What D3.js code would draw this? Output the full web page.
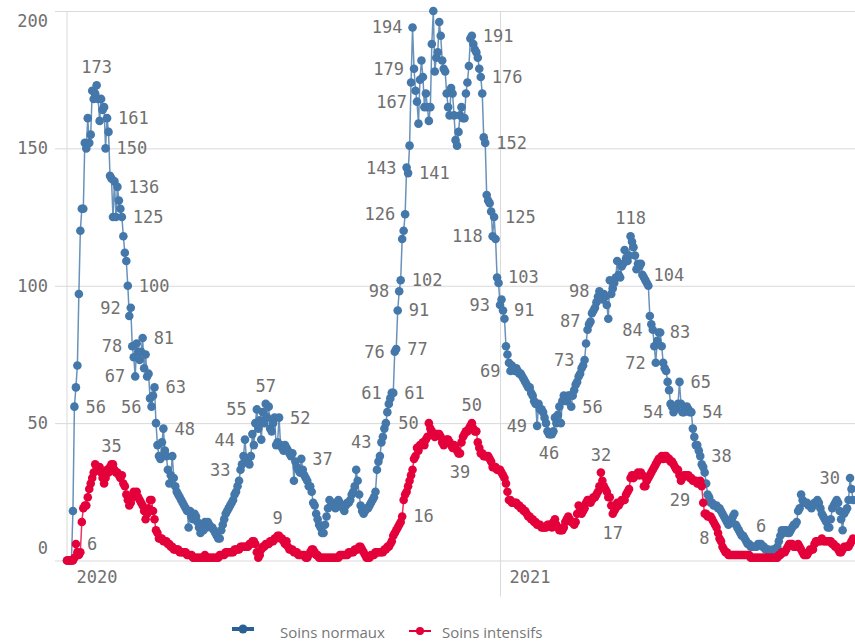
<!DOCTYPE html>
<html>
<head>
<meta charset="utf-8">
<script src="https://cdn.jsdelivr.net/npm/d3@7"></script>
<style>
  body { margin: 0; background: #fff; }
  svg { display: block; }
</style>
</head>
<body>
<svg id="chart" width="855" height="644"></svg>
<script>
// first day of the daily series, one value per day after that
const startDate = new Date(2020, 2, 15);

const seriesNames = ["Soins normaux", "Soins intensifs"];

const normaux = [
  0,0,0,0,18,56,63,71,97,120,
  128,128,152,150,161,152,155,171,168,170,
  173,168,160,168,164,165,150,161,156,140,
  139,125,138,125,136,131,128,125,118,112,
  109,100,89,92,78,74,67,79,76,73,
  76,81,70,75,67,68,59,56,60,63,
  50,42,38,37,43,48,40,38,33,28,
  31,38,30,27,25,24,23,22,21,20,
  19,18,12,18,16,15,17,16,14,12,
  10,13,11,14,12,14,13,12,12,11,
  10,9,8,8,11,13,15,17,18,19,
  20,21,22,24,25,27,29,33,35,38,
  44,37,36,35,38,46,42,50,55,48,
  51,44,54,50,57,52,56,48,47,50,
  52,42,43,52,42,41,40,42,41,40,
  39,38,39,29,36,34,33,32,37,33,
  31,30,29,27,27,25,21,20,17,15,
  13,12,10,10,13,16,19,22,20,21,
  20,19,20,22,21,20,19,18,20,21,
  21,22,24,25,27,33,29,24,20,18,
  17,18,19,19,20,21,22,23,25,33,
  36,38,43,45,48,50,54,57,59,61,
  61,76,77,91,98,102,117,120,126,143,
  141,151,174,194,179,171,167,159,175,182,
  176,165,170,165,160,165,188,200,178,183,
  185,196,191,182,179,178,170,165,162,172,
  170,162,153,151,156,162,165,161,161,170,
  174,180,190,191,188,186,185,183,179,176,
  170,154,152,133,131,130,127,118,125,117,
  103,101,93,95,91,88,78,75,72,69,
  71,70,69,70,69,68,68,67,66,65,
  64,63,63,61,60,58,57,49,57,55,
  55,54,52,50,47,46,46,46,47,52,
  50,53,56,50,58,60,59,58,60,60,
  56,60,62,64,65,67,68,70,71,73,
  79,84,86,87,90,91,92,94,96,98,
  97,95,97,96,93,88,102,97,99,101,
  103,109,104,103,107,108,113,110,109,111,
  118,116,114,111,106,108,107,108,104,103,
  102,101,100,89,86,84,78,72,80,83,
  83,78,72,70,69,65,62,57,56,54,
  55,56,57,65,57,54,54,55,56,55,
  54,54,48,45,42,42,40,38,35,34,
  32,28,24,23,21,21,20,20,20,19,
  19,18,17,16,15,14,13,14,15,16,
  17,13,12,11,10,9,9,8,7,6,
  6,5,5,5,5,5,6,6,6,5,
  5,4,4,4,3,3,4,4,4,5,
  7,9,11,10,11,11,10,10,11,12,
  13,13,14,18,19,24,22,21,21,21,
  20,20,19,20,21,21,22,21,19,17,
  16,15,14,12,12,15,19,20,21,22,
  21,18,15,11,17,18,19,22,30,26,22
];

const intensifs = [
  0,0,0,0,0,1,6,3,2,3,
  14,19,20,20,23,26,28,30,32,35,
  33,33,34,32,30,28,30,33,32,34,
  35,35,33,32,32,31,30,31,28,27,
  24,22,20,21,23,25,24,25,23,22,
  21,20,18,15,17,19,22,22,18,15,
  11,10,8,8,8,7,7,7,6,6,
  5,5,4,4,4,4,3,3,3,3,
  3,2,2,2,2,1,1,1,1,1,
  1,1,1,2,1,1,1,1,1,1,
  1,1,1,2,2,2,2,3,3,3,
  3,3,3,4,4,4,4,5,5,5,
  5,5,5,6,6,7,7,6,3,1,
  2,4,5,5,6,6,6,7,7,7,
  8,8,9,9,8,8,7,6,7,5,
  4,4,4,3,3,3,2,2,2,2,
  2,1,1,2,3,4,4,3,2,2,
  1,1,1,1,1,1,1,1,1,1,
  1,1,1,1,2,2,2,2,2,2,
  3,3,3,3,4,4,4,5,5,4,
  3,2,1,1,1,2,2,2,3,3,
  3,3,3,3,4,4,5,5,6,7,
  9,10,11,12,13,14,16,22,24,25,
  27,29,31,33,37,38,41,40,42,42,
  43,42,44,45,50,48,47,46,45,46,
  46,46,45,43,42,43,44,44,43,42,
  41,42,41,40,39,39,43,45,46,47,
  47,48,49,50,48,47,47,43,41,39,
  39,38,38,38,38,37,36,34,34,34,
  33,33,33,32,31,30,28,25,22,22,
  21,21,21,21,20,20,19,19,18,18,
  17,16,16,15,15,14,14,13,13,13,
  12,12,12,12,13,13,13,12,14,15,
  13,12,11,11,11,12,14,15,16,15,
  14,14,13,14,17,20,18,17,18,19,
  21,22,22,21,22,23,23,24,25,27,
  32,29,27,26,25,23,23,20,17,18,
  19,21,20,21,22,22,22,24,25,26,
  30,31,30,31,31,32,31,32,31,27,
  27,29,30,31,32,33,34,35,36,37,
  37,38,37,38,38,37,37,36,36,35,
  34,33,33,31,29,30,31,31,31,31,
  30,30,29,29,29,28,28,29,27,21,
  17,17,16,16,16,15,14,13,12,10,
  8,7,5,4,3,3,2,2,2,2,
  2,2,2,2,2,2,2,2,2,2,
  2,1,1,1,1,1,1,1,1,1,
  1,1,1,1,1,1,1,1,1,1,
  2,2,3,3,3,4,5,6,6,6,
  5,5,5,6,5,4,3,2,2,2,
  3,4,4,4,6,7,7,7,7,8,
  7,7,7,7,7,7,6,6,5,5,
  4,3,3,4,5,5,5,5,6,7,8
];

const yTicks = [0, 50, 100, 150, 200];
const xTicks = [new Date(2020, 2, 15), new Date(2021, 0, 1)];

// value labels shown on the chart: [day index, side]
const normauxLabels = [
  [5,"r"],[20,"t"],[27,"r"],[26,"r"],[34,"r"],[37,"r"],[41,"r"],[43,"l"],
  [44,"l"],[46,"l"],[51,"r"],[57,"l"],[59,"r"],[65,"r"],[117,"l"],[120,"l"],
  [128,"l"],[134,"t"],[143,"r"],[158,"r"],[212,"l"],[219,"l"],[220,"r"],
  [221,"l"],[222,"r"],[223,"r"],[224,"l"],[225,"r"],[228,"l"],[229,"l"],
  [230,"r"],[233,"l"],[234,"l"],[236,"l"],[273,"r"],[279,"r"],[282,"r"],
  [287,"l"],[288,"r"],[290,"r"],[292,"l"],[294,"r"],[299,"l"],[317,"l"],
  [325,"b"],[340,"r"],[349,"l"],[353,"l"],[359,"l"],[380,"t"],[388,"r"],
  [395,"l"],[397,"l"],[399,"r"],[409,"l"],[413,"r"],[421,"r"],[427,"r"],
  [468,"t"],[528,"l"]
];
const intensifsLabels = [
  [6,"r"],[30,"t"],[142,"t"],[226,"r"],[244,"l"],[265,"b"],[273,"t"],
  [360,"t"],[368,"b"],[427,"lb"],[440,"l"]
];

const colors = ["#4477aa", "#e4003a"];

const svg = d3.select("#chart");

const x = d3.scaleTime()
  .domain([startDate, d3.timeDay.offset(startDate, normaux.length - 1)])
  .range([67, 853]);
const y = d3.scaleLinear().domain([0, 200]).range([560.5, 11]);

const labelFont = "17px 'DejaVu Sans Mono', monospace";
const textColor = "#707070";

// y axis, its ticks stretched into gridlines
const gy = svg.append("g")
  .attr("transform", "translate(67,0)")
  .call(d3.axisLeft(y).tickValues(yTicks).tickSize(12).tickPadding(7));
gy.select(".domain").remove();
gy.selectAll(".tick line")
  .attr("x1", -12)
  .attr("x2", 788)
  .attr("stroke", "#d9d9d9");
gy.selectAll(".tick text")
  .attr("fill", textColor)
  .style("font", labelFont)
  // first and last labels are pushed inside the plot
  .attr("y", d => d === 0 ? -12 : d === 200 ? 10 : 0);

svg.append("line")
  .attr("x1", 67).attr("x2", 67)
  .attr("y1", y(200)).attr("y2", y(0))
  .attr("stroke", "#d9d9d9");

// x axis with year labels
const gx = svg.append("g")
  .attr("transform", "translate(0," + y(0) + ")")
  .call(d3.axisBottom(x).tickValues(xTicks).tickFormat(d3.timeFormat("%Y")).tickSize(36));
gx.select(".domain").remove();
gx.selectAll(".tick line")
  .attr("y1", y(200) - y(0))
  .attr("stroke", (d, i) => i === 0 ? "none" : "#d9d9d9");
gx.selectAll(".tick text")
  .attr("fill", textColor)
  .style("font", labelFont)
  .attr("text-anchor", "start")
  .attr("x", 9)
  .attr("y", 22.5)
  .attr("dy", 0);

const dayX = i => x(d3.timeDay.offset(startDate, i));

const line = d3.line()
  .x((d, i) => dayX(i))
  .y(d => y(d));

const series = [
  { name: seriesNames[0], values: normaux, labels: normauxLabels, color: colors[0] },
  { name: seriesNames[1], values: intensifs, labels: intensifsLabels, color: colors[1] }
];

series.forEach(s => {
  svg.append("path")
    .datum(s.values)
    .attr("d", line)
    .attr("fill", "none")
    .attr("stroke", s.color)
    .attr("stroke-opacity", 0.8)
    .attr("stroke-width", 1.5);

  svg.append("g")
    .selectAll("circle")
    .data(s.values)
    .join("circle")
    .attr("cx", (d, i) => dayX(i))
    .attr("cy", d => y(d))
    .attr("r", 4.3)
    .attr("fill", s.color);
});

// value labels on top of everything
series.forEach(s => {
  svg.append("g")
    .selectAll("text")
    .data(s.labels)
    .join("text")
    .text(d => s.values[d[0]])
    .attr("x", d => {
      const px = dayX(d[0]);
      if (d[1] === "r") return px + 11;
      if (d[1] === "l" || d[1] === "lb") return px - 10;
      return px;
    })
    .attr("y", d => {
      const py = y(s.values[d[0]]);
      if (d[1] === "t") return py - 18;
      if (d[1] === "b") return py + 19;
      if (d[1] === "lb") return py + 19;
      return py;
    })
    .attr("dy", "0.35em")
    .attr("text-anchor", d => d[1] === "r" ? "start" : (d[1] === "t" || d[1] === "b") ? "middle" : "end")
    .attr("fill", textColor)
    .style("font", labelFont);
});

// legend
const legendItems = [
  { name: seriesNames[0], color: "#2a6195", x: 232, y: 629, w: 4, r: 4.5, tx: 280 },
  { name: seriesNames[1], color: colors[1], x: 409, y: 631, w: 2, r: 4, tx: 442 }
];
const lg = svg.append("g").selectAll("g").data(legendItems).join("g");
lg.append("line")
  .attr("x1", d => d.x).attr("x2", d => d.x + 22)
  .attr("y1", d => d.y).attr("y2", d => d.y)
  .attr("stroke", d => d.color)
  .attr("stroke-width", d => d.w);
lg.append("circle")
  .attr("cx", d => d.x + 11).attr("cy", d => d.y)
  .attr("r", d => d.r)
  .attr("fill", d => d.color);
lg.append("text")
  .text(d => d.name)
  .attr("x", d => d.tx)
  .attr("y", 638)
  .attr("fill", "#777")
  .style("font", "15px 'Open Sans', sans-serif");
</script>
</body>
</html>
